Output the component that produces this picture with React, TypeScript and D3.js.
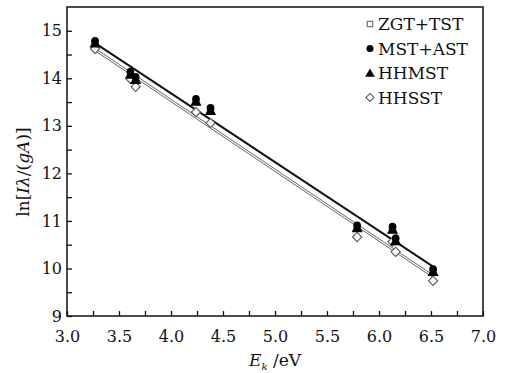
import * as d3 from "d3";
import { useEffect, useRef } from "react";

// excitation energies E_k (eV)
const energies = [3.27, 3.61, 3.66, 4.24, 4.38, 5.79, 6.13, 6.16, 6.52];
const zgtTst = [14.74, 14.08, 13.97, 13.51, 13.32, 10.85, 10.82, 10.58, 9.93];
const mstAst = [14.79, 14.14, 14.03, 13.57, 13.38, 10.91, 10.88, 10.64, 9.99];
const hhmst = [14.74, 14.08, 13.97, 13.51, 13.32, 10.85, 10.82, 10.58, 9.93];
const hhsst = [14.62, 13.99, 13.82, 13.29, 13.06, 10.66, 10.56, 10.35, 9.74];

// fitted lines, [start, end]
const fitE = [3.27, 6.52];
const fitUpper = [14.74, 10.04];
const fitLowerA = [14.63, 9.86];
const fitLowerB = [14.58, 9.81];

const xTicks = [3.0, 3.5, 4.0, 4.5, 5.0, 5.5, 6.0, 6.5, 7.0];
const yTicks = [9, 10, 11, 12, 13, 14, 15];
const legendNames = ["ZGT+TST", "MST+AST", "HHMST", "HHSST"];

export default function App() {
    const ref = useRef<SVGSVGElement>(null);

    useEffect(() => {
        const svg = d3.select(ref.current);
        svg.selectAll("*").remove();

        const left = 67, right = 483, top = 7, bottom = 316;
        const font = "DejaVu Serif";

        const x = d3.scaleLinear().domain([3, 7]).range([left, right]);
        const y = d3.scaleLinear().domain([9, 15.5]).range([bottom, top]);

        const g = svg.append("g");

        // frame
        g.append("rect")
            .attr("x", left).attr("y", top)
            .attr("width", right - left).attr("height", bottom - top)
            .attr("fill", "none").attr("stroke", "#111").attr("stroke-width", 1.5);

        // x axis ticks (inward)
        const xAxis = d3.axisBottom(x)
            .tickValues(d3.range(3, 7.01, 0.25))
            .tickSizeInner(-5).tickSizeOuter(0)
            .tickFormat(d => (xTicks.some(t => Math.abs(t - +d) < 1e-6) ? d3.format(".1f")(+d) : ""));
        g.append("g")
            .attr("transform", `translate(0,${bottom})`)
            .call(xAxis)
            .call(s => s.select(".domain").remove())
            .call(s => s.selectAll("line").attr("stroke", "#111").attr("stroke-width", 1.3))
            .call(s => s.selectAll("text")
                .attr("fill", "#111").attr("font-family", font).attr("font-size", 16).attr("dy", "1.45em"));

        const yAxis = d3.axisLeft(y)
            .tickValues(d3.range(9, 15.01, 0.5))
            .tickSizeInner(-5).tickSizeOuter(0)
            .tickFormat(d => (yTicks.includes(+d) ? String(d) : ""));
        g.append("g")
            .attr("transform", `translate(${left},0)`)
            .call(yAxis)
            .call(s => s.select(".domain").remove())
            .call(s => s.selectAll("line").attr("stroke", "#111").attr("stroke-width", 1.3))
            .call(s => s.selectAll("text")
                .attr("fill", "#111").attr("font-family", font).attr("font-size", 16).attr("x", -5));

        // fit lines
        const line = d3.line<[number, number]>().x(d => x(d[0])).y(d => y(d[1]));
        const fits: [number[], string, number][] = [
            [fitLowerA, "#555", 0.9],
            [fitLowerB, "#555", 0.9],
            [fitUpper, "#111", 2],
        ];
        fits.forEach(([vals, color, w]) => {
            g.append("path")
                .attr("d", line(fitE.map((e, i) => [e, vals[i]] as [number, number])))
                .attr("fill", "none").attr("stroke", color).attr("stroke-width", w);
        });

        const sq = d3.symbol().type(d3.symbolSquare).size(40);
        const tri = d3.symbol().type(d3.symbolTriangle).size(55);
        const dia = d3.symbol().type(d3.symbolSquare).size(42);

        // HHSST diamonds (rotated squares)
        g.selectAll(".hhsst").data(energies).enter().append("path")
            .attr("transform", (e, i) => `translate(${x(e)},${y(hhsst[i])}) rotate(45)`)
            .attr("d", dia()).attr("fill", "#fff").attr("stroke", "#555").attr("stroke-width", 1.1);
        // ZGT+TST squares
        g.selectAll(".zgt").data(energies).enter().append("path")
            .attr("transform", (e, i) => `translate(${x(e)},${y(zgtTst[i])})`)
            .attr("d", sq()).attr("fill", "#fff").attr("stroke", "#555").attr("stroke-width", 1);
        // HHMST triangles
        g.selectAll(".hhmst").data(energies).enter().append("path")
            .attr("transform", (e, i) => `translate(${x(e)},${y(hhmst[i]) + 1})`)
            .attr("d", tri()).attr("fill", "#000");
        // MST+AST circles
        g.selectAll(".mst").data(energies).enter().append("circle")
            .attr("cx", e => x(e)).attr("cy", (e, i) => y(mstAst[i]))
            .attr("r", 3.8).attr("fill", "#000");

        // legend
        const lg = g.append("g");
        legendNames.forEach((name, i) => {
            const cy = 24 + i * 24.5;
            const mx = 370;
            if (i === 0) lg.append("path").attr("transform", `translate(${mx},${cy})`)
                .attr("d", d3.symbol().type(d3.symbolSquare).size(30)()).attr("fill", "#fff").attr("stroke", "#555");
            if (i === 1) lg.append("circle").attr("cx", mx).attr("cy", cy).attr("r", 3.5).attr("fill", "#000");
            if (i === 2) lg.append("path").attr("transform", `translate(${mx},${cy + 1})`)
                .attr("d", d3.symbol().type(d3.symbolTriangle).size(40)()).attr("fill", "#000");
            if (i === 3) lg.append("path").attr("transform", `translate(${mx},${cy}) rotate(45)`)
                .attr("d", d3.symbol().type(d3.symbolSquare).size(32)()).attr("fill", "#fff").attr("stroke", "#555");
            lg.append("text").attr("x", 378).attr("y", cy + 6)
                .attr("font-family", font).attr("font-size", 17).attr("fill", "#111")
                .text(name);
        });

        // x title
        const xt = svg.append("text")
            .attr("x", 275).attr("y", 366).attr("text-anchor", "middle")
            .attr("font-family", font).attr("font-size", 17).attr("fill", "#111");
        xt.append("tspan").attr("font-style", "italic").text("E");
        xt.append("tspan").attr("font-style", "italic").attr("font-size", 10).attr("dy", 4).text("k");
        xt.append("tspan").attr("dy", -4).text(" /eV");

        // y title
        const yt = svg.append("text")
            .attr("transform", "translate(29,172) rotate(-90)").attr("text-anchor", "middle")
            .attr("font-family", font).attr("font-size", 17).attr("fill", "#111");
        yt.append("tspan").text("ln[");
        yt.append("tspan").attr("font-style", "italic").text("Iλ");
        yt.append("tspan").text("/(");
        yt.append("tspan").attr("font-style", "italic").text("gA");
        yt.append("tspan").text(")]");
    }, []);

    return (
        <svg ref={ref} width={514} height={373}
            style={{ position: "absolute", left: 0, top: 0, background: "#fff" }} />
    );
}
